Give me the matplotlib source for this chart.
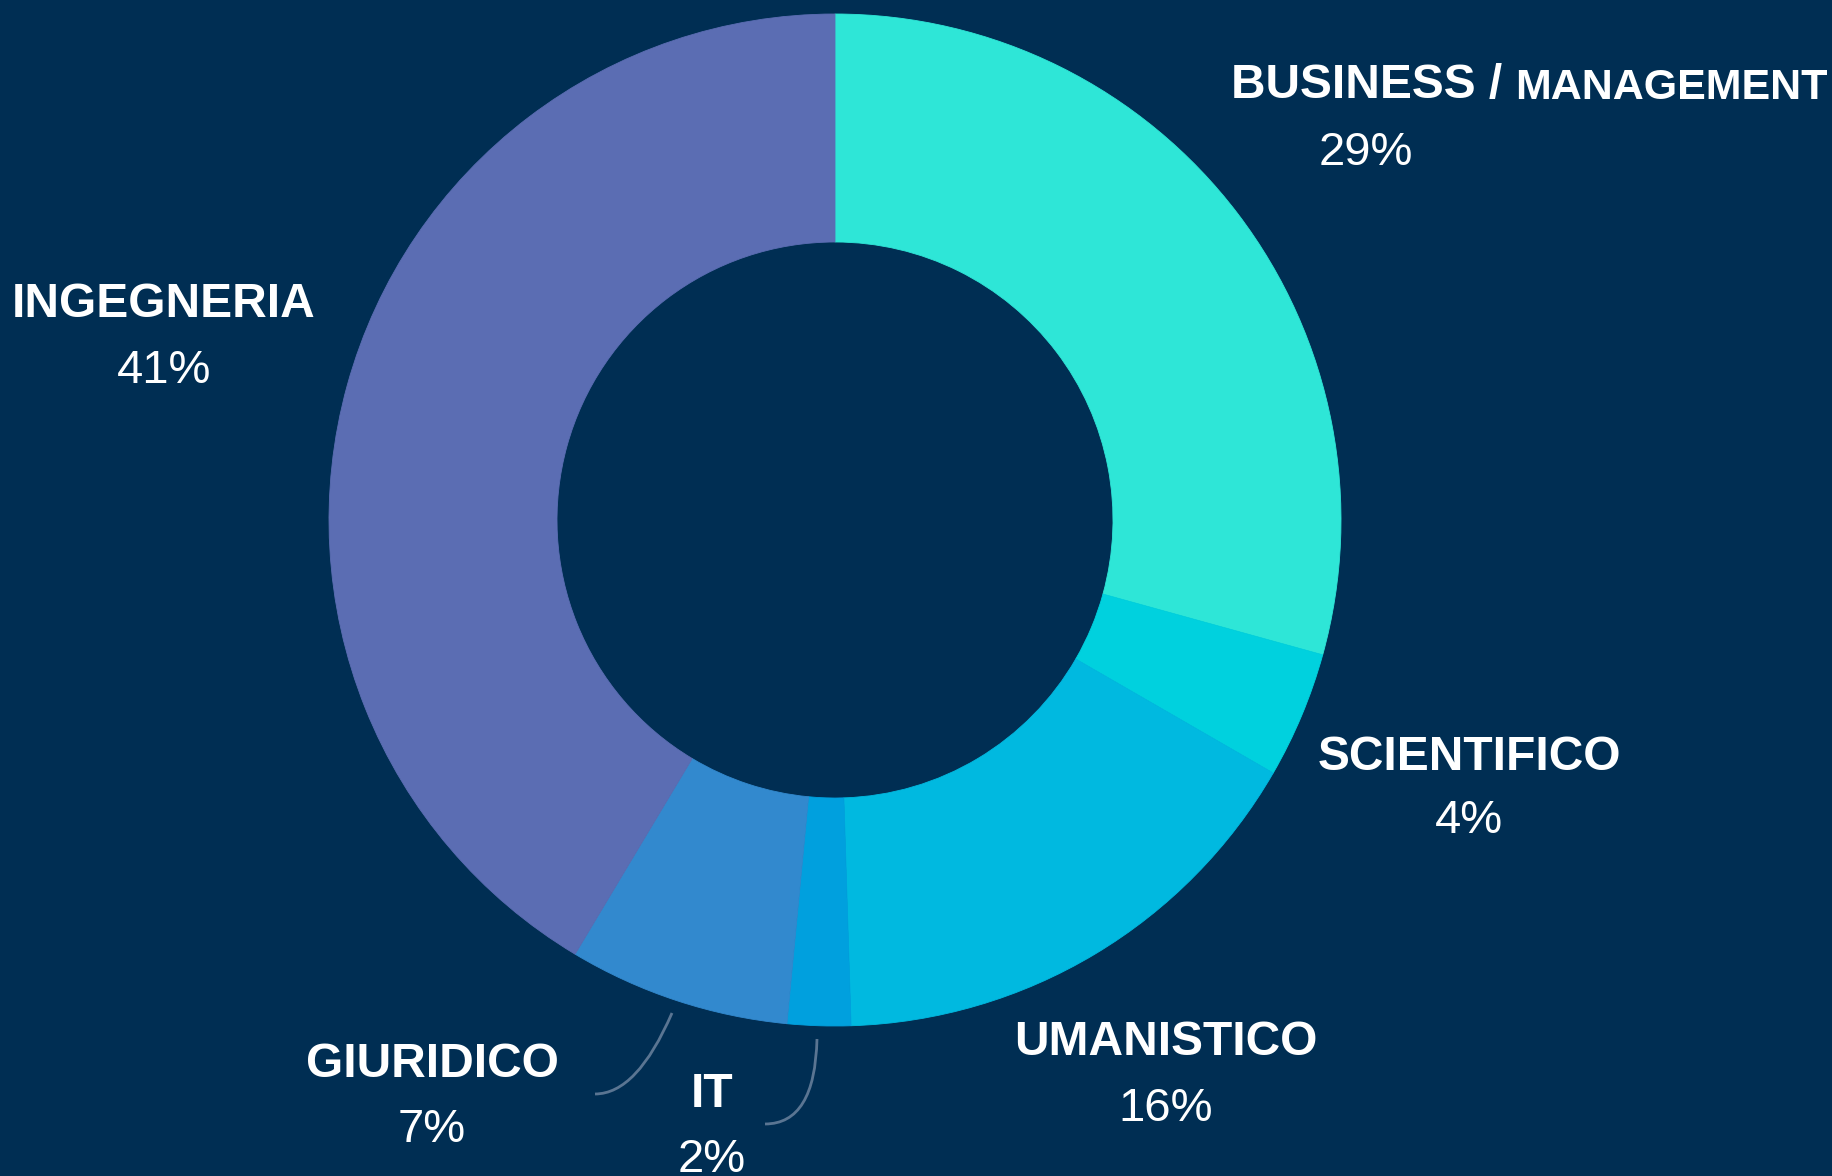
import matplotlib
matplotlib.use("Agg")
import matplotlib.pyplot as plt
from matplotlib.path import Path
from matplotlib.patches import PathPatch

# ---- data ----
categories = ["BUSINESS / MANAGEMENT", "SCIENTIFICO", "UMANISTICO", "IT", "GIURIDICO", "INGEGNERIA"]
values = [29, 4, 16, 2, 7, 41]
colors = ["#2EE6D7", "#00D1DE", "#00B9E0", "#00A0DE", "#3289CE", "#5B6DB3"]
bg = "#002E53"

W, H = 1833, 1176
fig = plt.figure(figsize=(W / 100, H / 100), dpi=100, facecolor=bg)
ax = fig.add_axes([0, 0, 1, 1])
ax.set_facecolor(bg)

def Y(py):
    return H - py

cx, cy, R, ring = 835, 520, 506, 228
ax.pie(values, colors=colors, startangle=90, counterclock=False,
       center=(cx, Y(cy)), radius=R, frame=True,
       wedgeprops=dict(width=ring, linewidth=0.6, edgecolor=None))
for w, c in zip(ax.patches, colors):
    w.set_edgecolor(c)
ax.set_xlim(0, W)
ax.set_ylim(0, H)
ax.set_aspect("equal")
ax.axis("off")

font = "Liberation Sans"
fs_lab, fs_pct = 34.5, 34
# label layout: (center x, label baseline y, pct baseline y)
layout = {
    "SCIENTIFICO": (1469, 770, 833),
    "UMANISTICO": (1166, 1055, 1121),
    "IT": (712, 1107, 1172),
    "GIURIDICO": (432, 1077, 1142),
    "INGEGNERIA": (164, 317, 383),
}
for cat, v in zip(categories, values):
    if cat in layout:
        x, yl, yp = layout[cat]
        ax.text(x, Y(yl), cat, ha="center", va="baseline", color="white",
                fontsize=fs_lab, fontweight="bold", family=font)
        ax.text(x, Y(yp), f"{v}%", ha="center", va="baseline", color="white",
                fontsize=fs_pct, family=font)
    else:
        first, second = cat.split(" / ")
        ax.text(1231, Y(98), first + " /", ha="left", va="baseline", color="white",
                fontsize=fs_lab, fontweight="bold", family=font)
        ax.text(1828, Y(99), second, ha="right", va="baseline", color="white",
                fontsize=31, fontweight="bold", family=font)
        ax.text(1366, Y(165), f"{v}%", ha="center", va="baseline", color="white",
                fontsize=fs_pct, family=font)

# leader lines
lc = "#5A7592"
for (x0, y0), (xc, yc), (x1, y1) in [((672, 1013), (637, 1094), (595, 1094)),
                                     ((817, 1039), (815, 1124), (765, 1124))]:
    p = Path([(x0, Y(y0)), (xc, Y(yc)), (x1, Y(y1))],
             [Path.MOVETO, Path.CURVE3, Path.CURVE3])
    ax.add_patch(PathPatch(p, fill=False, edgecolor=lc, linewidth=2))

fig.savefig("out.png", dpi=100, facecolor=bg)
